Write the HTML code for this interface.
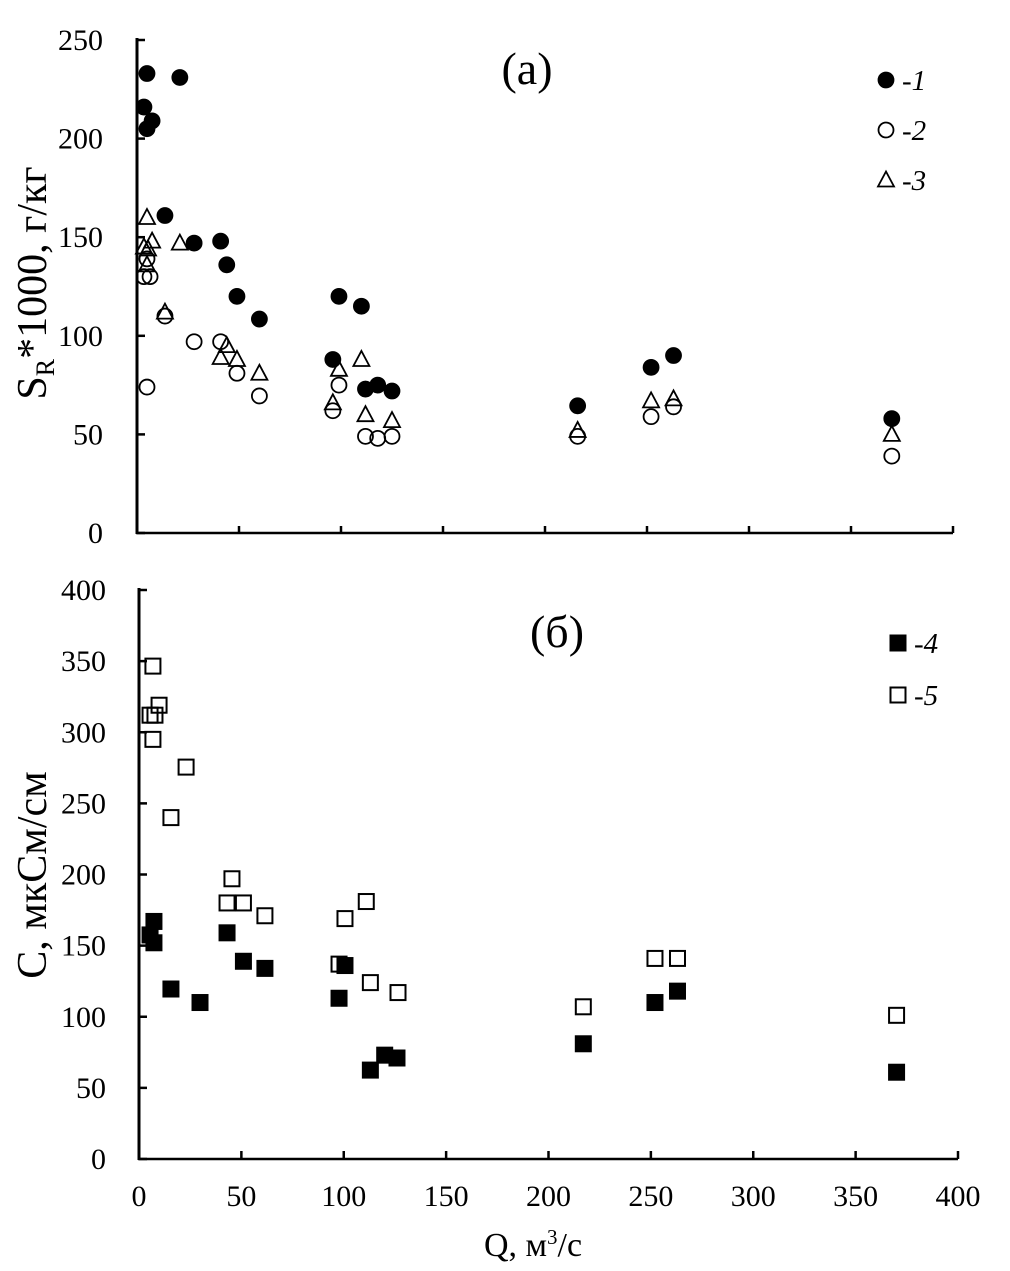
<!DOCTYPE html>
<html><head><meta charset="utf-8"><style>
body{margin:0;background:#fff}
svg{display:block;font-family:"Liberation Serif",serif}
</style></head><body>
<svg id="c" width="1010" height="1271"></svg>
<script>
const topQ1=[4.9,21,3.4,7.4,4.9,13.7,28,41,44,49,60,96,99,110,112,118,125,216,252,263,370];
const topS1=[233,231,216,209,205,161,147,148,136,120,108.5,88,120,115,73,75,72,64.5,84,90,58];
const topQ2=[4.9,3.4,6.4,4.9,13.7,28,41,49,60,96,99,112,118,125,216,252,263,370];
const topS2=[74,130,130,139,110,97,97,81,69.5,62,75,49,48,49,49,59,64,39];
const topQ3=[4.9,7.4,3.4,5.4,4.9,13.7,21,41,44,49,60,96,99,110,112,125,216,252,263,370];
const topS3=[160,148,145,144,136,112,147,89,95,88,81,66,83,88,60,57,52,67,68,50];
const botQ4=[5.4,7.3,7.3,15.6,29.8,43,51,61.5,97.7,100.6,113,120,126,217,252,263,370];
const botC4=[157.5,167,152,119.5,110,159,139,134,113,136,62.5,73,71,81,110,118,61];
const botQ5=[6.8,5.4,9.8,7.8,6.8,23,15.6,45.4,43,51,61.5,97.7,100.6,111,113,126.5,217,252,263,370];
const botC5=[346.5,312,319,312,295,275.5,240,197,180,180,171,137,169,181,124,117,107,141,141,101];
const topYTicks=[0,50,100,150,200,250];
const botYTicks=[0,50,100,150,200,250,300,350,400];
const xTicks=[0,50,100,150,200,250,300,350,400];

const svg=document.getElementById('c');
const NS='http://www.w3.org/2000/svg';
function mk(t,a,p){const e=document.createElementNS(NS,t);for(const k in a)e.setAttribute(k,a[k]);(p||svg).appendChild(e);return e;}
const tx=q=>137+q*2.04, ty=s=>533-s*1.972;
const bx=q=>139+q*2.0475, by=c=>1159-c*1.4225;

let g=mk('g',{});


let l=mk('line',{x1:137,y1:38,x2:137,y2:534,stroke:'#000','stroke-width':3},g);

l=mk('line',{x1:136,y1:533,x2:953,y2:533,stroke:'#000','stroke-width':2.5},g);

topYTicks.forEach(v=>{mk('line',{x1:137,y1:ty(v),x2:145,y2:ty(v),stroke:'#000','stroke-width':2.5},g);
 const t=mk('text',{x:103,y:ty(v)+10,'font-size':30,'text-anchor':'end'},g);t.textContent=v;
 });
xTicks.forEach(v=>mk('line',{x1:tx(v),y1:533,x2:tx(v),y2:526,stroke:'#000','stroke-width':2.5},g));
let t=mk('text',{x:0,y:0,'font-size':42,'text-anchor':'middle',transform:'translate(46,283) rotate(-90)'},g);
t.innerHTML='S<tspan font-size="26" dy="8">R</tspan><tspan dy="-8">*1000, г/кг</tspan>';

t=mk('text',{x:527,y:84,'font-size':46,'text-anchor':'middle'},g);t.textContent='(а)';


function circ(x,y,fill,p){return mk('circle',{cx:x,cy:y,r:7.5,fill:fill?'#000':'#fff','fill-opacity':fill?1:0,stroke:'#000','stroke-width':1.8},p);}
function tri(x,y,p){return mk('polygon',{points:`${x},${y-8.5} ${x-8},${y+6.5} ${x+8},${y+6.5}`,fill:'none',stroke:'#000','stroke-width':1.8},p);}
function sq(x,y,fill,p){return mk('rect',{x:x-7.5,y:y-7.5,width:15,height:15,fill:fill?'#000':'none',stroke:'#000','stroke-width':2},p);}

topQ3.forEach((q,i)=>{const e=tri(tx(q),ty(topS3[i]),g);});
topQ2.forEach((q,i)=>{const e=circ(tx(q),ty(topS2[i]),false,g);});
topQ1.forEach((q,i)=>{const e=circ(tx(q),ty(topS1[i]),true,g);});

circ(886,80,true,g);circ(886,130,false,g);tri(886,180,g);
[['-1',80],['-2',130],['-3',180]].forEach(([s,y])=>{const e=mk('text',{x:902,y:y+10,'font-size':29,'font-style':'italic'},g);e.textContent=s;
 });

let h=mk('g',{});


l=mk('line',{x1:139,y1:588,x2:139,y2:1160,stroke:'#000','stroke-width':3},h);

l=mk('line',{x1:138,y1:1159,x2:958,y2:1159,stroke:'#000','stroke-width':2.5},h);

botYTicks.forEach(v=>{mk('line',{x1:139,y1:by(v),x2:147,y2:by(v),stroke:'#000','stroke-width':2.5},h);
 const e=mk('text',{x:106,y:by(v)+10,'font-size':30,'text-anchor':'end'},h);e.textContent=v;
 });
xTicks.forEach(v=>{mk('line',{x1:bx(v),y1:1159,x2:bx(v),y2:1151,stroke:'#000','stroke-width':2.5},h);
 const e=mk('text',{x:bx(v),y:1206,'font-size':30,'text-anchor':'middle'},h);e.textContent=v;
 });
t=mk('text',{x:0,y:0,'font-size':42,'text-anchor':'middle',transform:'translate(46,875) rotate(-90)'},h);t.textContent='C, мкСм/см';

t=mk('text',{x:533,y:1256,'font-size':34,'text-anchor':'middle'},h);
t.innerHTML='Q, м<tspan font-size="21" dy="-12">3</tspan><tspan dy="12">/с</tspan>';

t=mk('text',{x:557,y:647,'font-size':46,'text-anchor':'middle'},h);t.textContent='(б)';


botQ5.forEach((q,i)=>{const e=sq(bx(q),by(botC5[i]),false,h);});
botQ4.forEach((q,i)=>{const e=sq(bx(q),by(botC4[i]),true,h);});

sq(898,643,true,h);sq(898,695,false,h);
[['-4',643],['-5',695]].forEach(([s,y])=>{const e=mk('text',{x:914,y:y+10,'font-size':29,'font-style':'italic'},h);e.textContent=s;
 });
</script>
</body></html>
